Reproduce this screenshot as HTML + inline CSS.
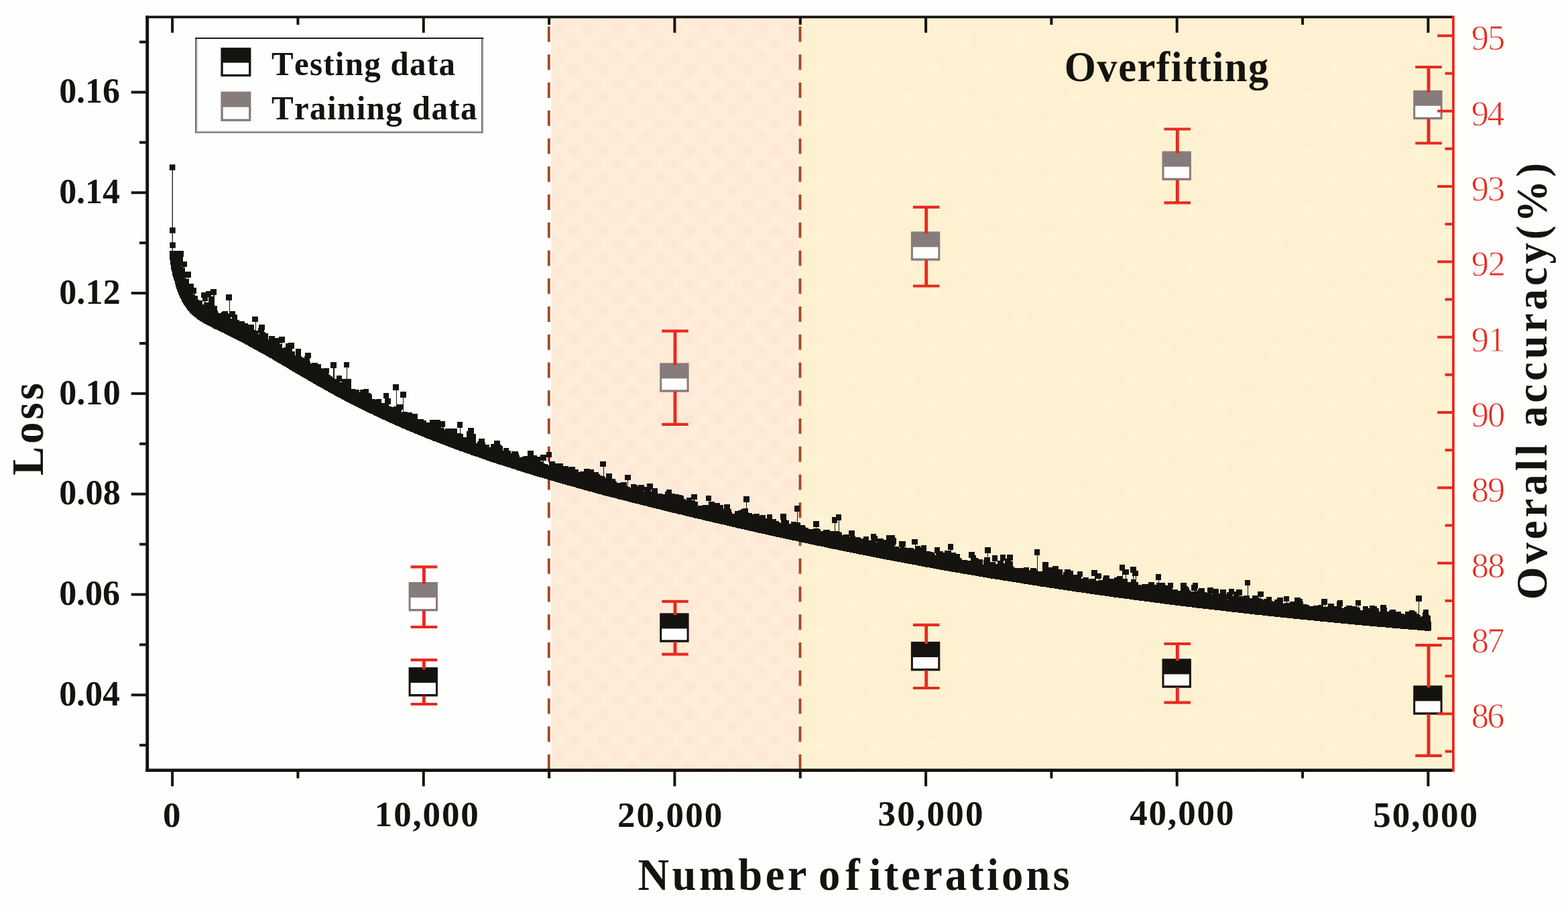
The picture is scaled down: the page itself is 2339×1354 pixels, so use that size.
<!DOCTYPE html>
<html lang="en">
<head>
<meta charset="utf-8">
<title>Loss and overall accuracy vs number of iterations</title>
<style>html,body{margin:0;padding:0;background:#fefefc;overflow:hidden;}svg{display:block;}</style>
</head>
<body>
<svg width="2339" height="1354" viewBox="0 0 2339 1354" role="img" aria-label="Loss and overall accuracy versus number of iterations">
<defs>
<radialGradient id="gp"><stop offset="0" stop-color="#fedcd4" stop-opacity="0.5"/><stop offset="1" stop-color="#fedcd4" stop-opacity="0"/></radialGradient>
<radialGradient id="go"><stop offset="0" stop-color="#fddfc8" stop-opacity="0.4"/><stop offset="1" stop-color="#fddfc8" stop-opacity="0"/></radialGradient>
<radialGradient id="gl"><stop offset="0" stop-color="#fff3dc" stop-opacity="0.5"/><stop offset="1" stop-color="#fff3dc" stop-opacity="0"/></radialGradient>
<radialGradient id="gy"><stop offset="0" stop-color="#fcf8d9" stop-opacity="0.85"/><stop offset="1" stop-color="#fff7d6" stop-opacity="0"/></radialGradient>
<pattern id="pp" x="835.1" y="45.1" width="42.95" height="39.95" patternUnits="userSpaceOnUse"><rect width="42.95" height="39.95" fill="#feebd8"/><circle cx="21.475" cy="19.975" r="11" fill="url(#gp)"/><circle cx="0" cy="0" r="11" fill="url(#go)"/><circle cx="0" cy="39.95" r="11" fill="url(#go)"/><circle cx="42.95" cy="0" r="11" fill="url(#go)"/><circle cx="42.95" cy="39.95" r="11" fill="url(#go)"/><circle cx="0" cy="19.975" r="9" fill="url(#gl)"/><circle cx="42.95" cy="19.975" r="9" fill="url(#gl)"/><circle cx="21.475" cy="0" r="9" fill="url(#gl)"/><circle cx="21.475" cy="39.95" r="9" fill="url(#gl)"/></pattern>
<pattern id="py" x="33.8" y="18.3" width="85" height="84" patternUnits="userSpaceOnUse"><rect width="85" height="84" fill="#fef1d1"/><circle cx="42.5" cy="42" r="14" fill="url(#gy)"/><circle cx="0" cy="0" r="14" fill="url(#gy)"/><circle cx="85" cy="0" r="14" fill="url(#gy)"/><circle cx="0" cy="84" r="14" fill="url(#gy)"/><circle cx="85" cy="84" r="14" fill="url(#gy)"/></pattern>
</defs>
<rect width="2339" height="1354" fill="#fefefc"/>
<rect x="822.4" y="25.4" width="370.1" height="1123.1999999999998" fill="url(#pp)"/>
<rect x="1192.5" y="25.4" width="975.4000000000001" height="1123.1999999999998" fill="url(#py)"/>
<line x1="818.8" y1="39.4" x2="818.8" y2="1148.6" stroke="#a24825" stroke-width="3.8" stroke-dasharray="23.2 18.55"/>
<line x1="1193.5" y1="39.4" x2="1193.5" y2="1148.6" stroke="#a24825" stroke-width="3.8" stroke-dasharray="23.2 18.55"/>
<path d="M253 374h1v14h-1zM254 374h1v21h-1zM255 374h1v28h-1zM256 374h1v31h-1zM257 374h1v37h-1zM258 374h1v40h-1zM259 374h1v43h-1zM260 374h1v46h-1zM261 374h1v50h-1zM262 374h1v54h-1zM263 374h1v57h-1zM264 374h1v60h-1zM265 374h1v62h-1zM266 374h1v65h-1zM267 374h1v67h-1zM268 374h1v70h-1zM269 374h1v71h-1zM270 397h1v50h-1zM270 374h1v22h-1zM271 374h1v76h-1zM272 374h1v77h-1zM273 374h1v9h-1zM273 390h1v63h-1zM274 400h1v55h-1zM274 390h1v8h-1zM275 390h1v66h-1zM276 405h1v9h-1zM276 415h1v42h-1zM277 405h1v54h-1zM276 390h3v8h-3zM278 416h1v44h-1zM278 405h2v9h-2zM279 416h1v46h-1zM280 405h1v58h-1zM281 416h1v48h-1zM282 423h1v42h-1zM283 423h1v44h-1zM281 405h4v9h-4zM284 423h2v45h-2zM286 423h2v47h-2zM288 439h1v32h-1zM288 423h1v15h-1zM289 429h1v43h-1zM290 439h1v34h-1zM291 441h1v32h-1zM290 429h3v9h-3zM292 441h1v33h-1zM293 441h1v34h-1zM294 441h1v35h-1zM295 447h2v30h-2zM297 448h1v30h-1zM298 448h2v31h-2zM300 448h2v32h-2zM300 436h2v8h-2zM302 454h1v27h-1zM302 436h2v13h-2zM303 454h1v28h-1zM304 436h1v46h-1zM305 436h1v13h-1zM305 451h1v32h-1zM306 436h1v47h-1zM307 451h2v33h-2zM307 434h3v15h-3zM309 451h2v34h-2zM310 434h1v9h-1zM311 434h2v52h-2zM313 434h1v53h-1zM314 431h1v56h-1zM315 442h2v46h-2zM315 431h3v9h-3zM317 442h1v47h-1zM318 431h2v59h-2zM320 431h3v9h-3zM320 456h3v35h-3zM323 456h1v36h-1zM324 463h1v29h-1zM325 466h1v27h-1zM326 467h1v26h-1zM327 467h2v27h-2zM329 467h1v28h-1zM330 465h1v30h-1zM331 465h1v31h-1zM332 464h2v32h-2zM334 464h1v33h-1zM335 464h2v34h-2zM337 464h2v35h-2zM339 464h1v36h-1zM340 467h1v33h-1zM337 439h5v9h-5zM341 468h1v33h-1zM342 439h1v62h-1zM343 464h1v38h-1zM344 475h1v27h-1zM343 439h3v9h-3zM344 464h2v9h-2zM345 475h1v28h-1zM346 464h1v39h-1zM347 464h2v40h-2zM349 464h2v41h-2zM351 469h2v37h-2zM353 469h1v38h-1zM354 477h1v30h-1zM355 477h2v31h-2zM357 479h2v30h-2zM359 479h2v31h-2zM361 479h2v32h-2zM363 479h2v33h-2zM365 482h1v31h-1zM366 482h3v32h-3zM369 482h1v33h-1zM370 484h2v32h-2zM372 484h1v33h-1zM373 484h3v34h-3zM376 484h1v35h-1zM377 484h2v36h-2zM376 472h5v8h-5zM379 492h2v29h-2zM381 472h1v50h-1zM382 493h1v29h-1zM382 472h3v8h-3zM383 493h2v30h-2zM385 498h1v26h-1zM385 489h1v8h-1zM386 498h1v27h-1zM386 484h1v13h-1zM387 484h1v41h-1zM388 484h2v42h-2zM390 484h2v43h-2zM392 484h2v44h-2zM394 484h1v8h-1zM394 495h2v34h-2zM396 497h1v33h-1zM397 497h2v34h-2zM399 497h1v35h-1zM400 506h1v26h-1zM401 501h1v32h-1zM402 501h3v33h-3zM405 501h1v34h-1zM406 501h2v35h-2zM408 501h1v36h-1zM409 501h1v37h-1zM410 504h1v34h-1zM411 504h2v35h-2zM413 504h1v36h-1zM414 504h2v37h-2zM416 502h1v40h-1zM417 513h1v29h-1zM417 502h2v10h-2zM418 513h2v30h-2zM419 502h1v9h-1zM420 502h1v42h-1zM421 519h2v26h-2zM421 502h4v9h-4zM423 518h2v28h-2zM425 518h1v29h-1zM426 512h1v35h-1zM427 512h1v36h-1zM428 512h2v37h-2zM430 511h1v39h-1zM431 511h2v40h-2zM433 511h2v41h-2zM435 511h1v42h-1zM436 524h2v30h-2zM436 511h3v9h-3zM438 524h2v31h-2zM440 530h1v26h-1zM441 520h2v37h-2zM443 520h2v38h-2zM445 520h2v39h-2zM447 520h1v40h-1zM448 520h1v41h-1zM449 531h1v30h-1zM450 533h2v29h-2zM452 533h1v30h-1zM453 534h1v30h-1zM454 531h1v33h-1zM455 526h1v38h-1zM456 526h1v39h-1zM457 526h2v40h-2zM459 526h1v41h-1zM460 526h2v42h-2zM462 539h1v30h-1zM462 526h2v8h-2zM463 542h1v27h-1zM464 542h1v28h-1zM465 541h1v29h-1zM466 541h1v30h-1zM467 541h2v31h-2zM469 541h2v32h-2zM471 541h1v33h-1zM472 541h2v34h-2zM474 543h2v33h-2zM476 543h2v34h-2zM478 543h1v35h-1zM479 549h1v29h-1zM480 549h1v30h-1zM481 550h1v29h-1zM482 549h1v31h-1zM483 549h2v32h-2zM485 549h2v33h-2zM487 549h2v34h-2zM489 549h1v35h-1zM490 549h1v8h-1zM490 558h1v27h-1zM491 559h1v26h-1zM492 559h1v27h-1zM493 561h1v25h-1zM494 561h2v26h-2zM493 540h4v9h-4zM496 563h1v25h-1zM497 540h1v48h-1zM498 540h1v49h-1zM499 565h2v25h-2zM499 540h3v9h-3zM501 565h1v26h-1zM502 560h1v31h-1zM503 560h2v32h-2zM505 560h2v33h-2zM507 570h2v24h-2zM507 560h3v9h-3zM509 570h1v25h-1zM510 565h3v31h-3zM513 565h1v32h-1zM514 565h2v33h-2zM513 540h4v8h-4zM516 565h1v34h-1zM517 540h1v59h-1zM518 565h2v35h-2zM518 540h3v8h-3zM520 565h2v36h-2zM522 565h2v37h-2zM524 580h2v23h-2zM526 580h2v24h-2zM528 580h2v25h-2zM530 581h2v25h-2zM532 581h2v26h-2zM534 581h2v27h-2zM536 585h1v24h-1zM537 581h1v28h-1zM538 581h2v29h-2zM540 581h2v30h-2zM542 580h2v32h-2zM544 580h2v33h-2zM546 580h2v34h-2zM548 580h2v35h-2zM550 586h2v30h-2zM552 586h1v31h-1zM553 588h2v29h-2zM555 595h2v23h-2zM557 595h1v24h-1zM558 595h2v25h-2zM560 596h1v24h-1zM561 595h2v26h-2zM563 595h2v27h-2zM565 595h2v28h-2zM567 595h2v29h-2zM569 601h2v24h-2zM571 601h3v25h-3zM572 586h2v8h-2zM574 586h2v41h-2zM576 586h2v42h-2zM578 586h2v43h-2zM580 605h1v25h-1zM581 606h1v24h-1zM580 594h3v9h-3zM582 606h2v25h-2zM584 607h1v24h-1zM585 607h2v25h-2zM587 606h2v27h-2zM586 573h5v9h-5zM589 606h2v28h-2zM591 573h1v62h-1zM592 603h2v32h-2zM592 573h3v9h-3zM594 603h2v33h-2zM596 603h2v34h-2zM598 603h1v35h-1zM599 615h1v23h-1zM597 584h4v9h-4zM599 603h2v8h-2zM600 614h1v25h-1zM601 584h1v55h-1zM602 614h1v25h-1zM603 614h2v26h-2zM602 584h4v9h-4zM605 614h2v27h-2zM607 614h1v28h-1zM608 615h2v27h-2zM610 615h2v28h-2zM612 615h3v29h-3zM615 617h2v28h-2zM617 617h2v29h-2zM619 617h3v30h-3zM622 617h1v31h-1zM623 625h1v23h-1zM624 625h3v24h-3zM627 625h2v25h-2zM629 625h3v26h-3zM632 627h2v25h-2zM634 627h2v26h-2zM636 630h3v24h-3zM639 630h2v25h-2zM641 626h1v29h-1zM642 626h2v30h-2zM644 626h2v31h-2zM646 626h4v32h-4zM650 626h2v33h-2zM652 626h3v34h-3zM655 626h2v35h-2zM657 628h1v34h-1zM658 628h2v9h-2zM658 638h2v24h-2zM660 628h1v35h-1zM661 638h1v25h-1zM662 639h1v24h-1zM661 628h3v9h-3zM663 641h1v23h-1zM664 639h1v25h-1zM665 639h3v26h-3zM668 639h2v27h-2zM670 639h3v28h-3zM673 639h3v29h-3zM676 639h2v30h-2zM678 639h3v31h-3zM681 639h1v32h-1zM682 646h2v25h-2zM682 629h4v9h-4zM684 646h2v26h-2zM686 629h1v44h-1zM687 646h1v27h-1zM687 629h3v9h-3zM688 647h2v26h-2zM690 647h1v27h-1zM691 652h1v22h-1zM692 652h3v23h-3zM695 652h1v24h-1zM696 643h2v33h-2zM698 638h3v39h-3zM701 638h2v40h-2zM703 638h3v41h-3zM706 638h1v42h-1zM707 647h2v33h-2zM709 647h1v34h-1zM710 661h2v20h-2zM712 658h1v23h-1zM713 658h1v24h-1zM714 654h1v28h-1zM715 654h3v29h-3zM718 654h3v30h-3zM721 654h2v31h-2zM723 660h1v25h-1zM724 663h2v23h-2zM726 663h3v24h-3zM729 663h1v25h-1zM730 667h2v21h-2zM732 662h3v27h-3zM735 662h2v28h-2zM737 657h2v33h-2zM739 657h2v34h-2zM741 657h3v35h-3zM744 657h2v36h-2zM746 663h2v30h-2zM748 665h2v29h-2zM750 672h1v22h-1zM751 668h3v27h-3zM754 668h3v28h-3zM757 668h2v29h-2zM759 672h2v25h-2zM761 672h1v26h-1zM762 676h1v22h-1zM763 673h4v26h-4zM767 673h3v27h-3zM770 673h2v28h-2zM772 673h1v29h-1zM773 676h1v26h-1zM774 679h1v23h-1zM775 682h1v20h-1zM776 682h2v21h-2zM778 681h1v22h-1zM779 681h2v23h-2zM781 680h1v24h-1zM782 680h3v25h-3zM785 680h2v26h-2zM787 672h2v34h-2zM789 672h3v35h-3zM792 672h3v36h-3zM795 672h1v37h-1zM796 679h2v30h-2zM798 679h3v31h-3zM801 681h4v30h-4zM805 681h1v31h-1zM806 688h3v24h-3zM806 678h4v9h-4zM809 688h1v25h-1zM810 678h1v35h-1zM811 691h1v22h-1zM812 691h1v23h-1zM811 678h4v9h-4zM813 692h3v22h-3zM816 692h1v23h-1zM817 693h1v22h-1zM815 674h4v8h-4zM818 694h1v22h-1zM819 674h1v42h-1zM820 688h2v28h-2zM820 674h3v8h-3zM822 688h4v29h-4zM826 688h2v30h-2zM828 691h1v27h-1zM829 691h3v28h-3zM832 691h4v29h-4zM836 691h3v30h-3zM839 691h1v31h-1zM840 695h3v27h-3zM843 695h3v28h-3zM846 695h2v29h-2zM848 697h1v27h-1zM849 696h1v28h-1zM850 696h4v29h-4zM854 696h4v30h-4zM858 700h2v27h-2zM860 700h3v28h-3zM863 704h1v24h-1zM864 704h1v25h-1zM865 703h3v26h-3zM868 703h3v27h-3zM871 699h4v32h-4zM875 699h3v33h-3zM878 699h2v34h-2zM880 700h3v33h-3zM883 700h3v34h-3zM886 704h3v31h-3zM889 704h4v32h-4zM893 707h2v30h-2zM895 709h2v28h-2zM897 709h1v29h-1zM895 688h5v8h-5zM898 710h2v28h-2zM900 688h1v51h-1zM901 710h1v29h-1zM902 711h1v28h-1zM901 688h3v8h-3zM903 713h1v26h-1zM904 706h4v34h-4zM908 706h4v35h-4zM912 706h1v36h-1zM913 714h4v28h-4zM917 714h1v29h-1zM918 717h1v26h-1zM919 718h1v25h-1zM920 720h3v24h-3zM923 720h3v25h-3zM926 719h2v26h-2zM928 719h4v27h-4zM932 719h3v28h-3zM932 708h4v8h-4zM935 725h1v22h-1zM936 708h1v40h-1zM937 726h2v22h-2zM939 726h1v23h-1zM937 708h4v8h-4zM940 728h1v21h-1zM941 722h2v27h-2zM943 722h4v28h-4zM947 722h2v29h-2zM949 723h2v28h-2zM951 725h1v26h-1zM952 723h3v29h-3zM955 723h4v30h-4zM959 723h1v31h-1zM960 723h1v9h-1zM960 733h1v21h-1zM961 726h3v28h-3zM964 726h1v29h-1zM965 721h2v34h-2zM967 721h4v35h-4zM971 721h1v9h-1zM971 733h1v24h-1zM972 721h2v36h-2zM974 728h1v29h-1zM975 728h4v30h-4zM979 728h2v31h-2zM981 736h3v23h-3zM984 736h3v24h-3zM987 736h1v25h-1zM988 737h3v24h-3zM991 737h1v25h-1zM992 733h2v29h-2zM994 730h1v32h-1zM995 730h4v33h-4zM999 730h3v34h-3zM1002 736h1v28h-1zM1003 736h4v29h-4zM1007 737h1v28h-1zM1008 737h3v29h-3zM1011 737h2v30h-2zM1013 738h4v29h-4zM1017 739h3v29h-3zM1020 744h3v25h-3zM1023 746h1v23h-1zM1024 742h4v28h-4zM1028 742h3v29h-3zM1031 737h1v34h-1zM1032 746h1v25h-1zM1032 737h3v8h-3zM1033 746h2v26h-2zM1035 737h1v35h-1zM1036 746h1v27h-1zM1036 737h4v8h-4zM1037 748h4v25h-4zM1041 754h5v20h-5zM1046 754h2v21h-2zM1048 753h1v22h-1zM1049 753h4v23h-4zM1053 753h4v24h-4zM1053 739h4v8h-4zM1057 739h1v38h-1zM1058 739h3v8h-3zM1058 748h4v30h-4zM1062 748h4v31h-4zM1066 750h5v30h-5zM1071 750h3v31h-3zM1074 753h1v28h-1zM1075 753h4v29h-4zM1079 759h1v23h-1zM1080 752h4v31h-4zM1084 752h4v32h-4zM1088 752h1v33h-1zM1089 759h2v26h-2zM1091 763h1v22h-1zM1092 766h4v20h-4zM1096 762h1v24h-1zM1097 762h3v25h-3zM1100 762h1v26h-1zM1101 761h4v27h-4zM1105 759h3v30h-3zM1108 758h2v31h-2zM1109 740h4v9h-4zM1110 758h3v32h-3zM1113 740h1v50h-1zM1114 758h2v33h-2zM1116 764h1v27h-1zM1114 740h4v9h-4zM1117 765h1v26h-1zM1118 765h4v27h-4zM1122 767h1v25h-1zM1123 767h1v26h-1zM1124 766h3v27h-3zM1127 766h4v28h-4zM1131 766h2v29h-2zM1133 769h1v26h-1zM1134 768h2v27h-2zM1136 768h5v28h-5zM1141 768h1v29h-1zM1142 773h2v24h-2zM1144 767h1v30h-1zM1145 767h4v31h-4zM1149 767h3v32h-3zM1152 774h2v25h-2zM1154 774h4v26h-4zM1158 777h4v24h-4zM1162 779h1v22h-1zM1163 779h1v23h-1zM1164 780h1v22h-1zM1164 766h1v9h-1zM1165 766h3v36h-3zM1168 766h4v37h-4zM1172 766h1v38h-1zM1173 775h1v29h-1zM1174 776h3v28h-3zM1177 781h3v24h-3zM1180 778h1v27h-1zM1181 778h6v28h-6zM1187 778h1v29h-1zM1185 754h4v9h-4zM1188 779h1v28h-1zM1189 754h1v53h-1zM1190 779h1v28h-1zM1190 754h3v9h-3zM1191 779h3v29h-3zM1194 783h1v25h-1zM1195 783h5v26h-5zM1200 783h1v27h-1zM1201 785h1v25h-1zM1202 787h3v23h-3zM1205 787h1v24h-1zM1206 789h3v22h-3zM1209 789h4v23h-4zM1213 788h1v24h-1zM1213 777h4v9h-4zM1214 788h3v25h-3zM1217 777h1v36h-1zM1218 788h4v26h-4zM1218 777h4v9h-4zM1222 789h2v25h-2zM1224 792h4v23h-4zM1228 790h1v25h-1zM1229 790h4v26h-4zM1233 790h4v27h-4zM1237 790h1v28h-1zM1238 792h4v26h-4zM1241 771h4v9h-4zM1242 792h3v27h-3zM1245 771h1v48h-1zM1246 771h1v9h-1zM1246 792h2v27h-2zM1247 767h2v13h-2zM1248 792h3v28h-3zM1249 767h2v9h-2zM1251 767h1v53h-1zM1252 793h2v28h-2zM1252 767h3v9h-3zM1254 794h2v27h-2zM1256 798h1v23h-1zM1257 798h1v24h-1zM1258 797h4v25h-4zM1262 797h4v26h-4zM1266 791h1v32h-1zM1267 800h1v24h-1zM1267 791h1v8h-1zM1268 791h4v33h-4zM1272 791h3v34h-3zM1275 799h1v26h-1zM1276 801h1v24h-1zM1277 801h4v25h-4zM1281 801h2v26h-2zM1283 802h2v25h-2zM1285 804h1v23h-1zM1286 803h1v24h-1zM1287 803h1v25h-1zM1288 800h4v28h-4zM1292 800h4v29h-4zM1296 806h1v23h-1zM1297 806h1v24h-1zM1298 805h2v25h-2zM1299 796h1v8h-1zM1300 796h2v34h-2zM1302 796h5v35h-5zM1307 799h1v9h-1zM1307 809h1v23h-1zM1308 799h1v33h-1zM1309 803h3v29h-3zM1312 803h5v30h-5zM1317 803h1v31h-1zM1318 805h4v29h-4zM1322 798h6v37h-6zM1328 798h5v38h-5zM1333 798h1v39h-1zM1334 798h1v16h-1zM1335 802h1v12h-1zM1336 802h1v9h-1zM1334 815h4v22h-4zM1338 815h3v23h-3zM1341 807h2v9h-2zM1341 817h2v21h-2zM1343 807h1v31h-1zM1344 807h5v32h-5zM1349 807h2v8h-2zM1349 816h3v24h-3zM1352 817h2v23h-2zM1354 817h6v24h-6zM1360 817h3v25h-3zM1360 804h5v8h-5zM1363 819h2v23h-2zM1365 804h1v38h-1zM1366 804h3v8h-3zM1366 814h4v29h-4zM1370 814h3v30h-3zM1373 816h1v28h-1zM1374 813h1v31h-1zM1375 813h5v32h-5zM1380 813h2v33h-2zM1382 822h5v24h-5zM1387 822h1v25h-1zM1388 823h4v24h-4zM1392 824h2v24h-2zM1394 826h1v22h-1zM1394 816h2v9h-2zM1395 828h1v20h-1zM1396 816h1v32h-1zM1397 816h5v33h-5zM1402 822h5v28h-5zM1407 824h1v26h-1zM1408 824h1v27h-1zM1409 821h5v30h-5zM1414 811h4v9h-4zM1414 821h4v31h-4zM1418 811h1v41h-1zM1419 811h3v9h-3zM1419 824h6v29h-6zM1425 824h1v30h-1zM1426 826h6v28h-6zM1432 832h2v23h-2zM1434 833h1v22h-1zM1435 835h1v20h-1zM1436 835h7v21h-7zM1443 836h5v21h-5zM1445 823h3v9h-3zM1448 823h1v34h-1zM1449 823h5v35h-5zM1454 828h1v30h-1zM1455 828h1v31h-1zM1456 832h3v27h-3zM1459 833h1v26h-1zM1460 834h6v26h-6zM1466 842h1v19h-1zM1467 835h1v26h-1zM1468 831h4v30h-4zM1469 816h4v9h-4zM1472 831h1v31h-1zM1473 816h1v46h-1zM1474 831h3v31h-3zM1474 816h4v9h-4zM1477 838h7v25h-7zM1480 828h4v9h-4zM1484 828h1v36h-1zM1485 841h3v23h-3zM1485 828h3v9h-3zM1488 836h3v28h-3zM1491 836h1v29h-1zM1492 827h4v38h-4zM1496 827h1v39h-1zM1497 827h2v9h-2zM1497 840h2v26h-2zM1499 827h1v39h-1zM1500 833h2v33h-2zM1502 827h1v39h-1zM1503 827h5v40h-5zM1508 837h1v30h-1zM1508 827h3v9h-3zM1509 837h2v31h-2zM1511 844h1v24h-1zM1512 846h2v22h-2zM1514 847h2v21h-2zM1516 847h6v22h-6zM1522 847h5v23h-5zM1527 846h7v25h-7zM1534 846h1v26h-1zM1535 850h2v22h-2zM1537 847h3v25h-3zM1540 847h6v26h-6zM1543 819h4v9h-4zM1546 849h1v24h-1zM1547 819h1v55h-1zM1548 819h3v9h-3zM1548 852h4v22h-4zM1552 852h3v23h-3zM1555 838h5v37h-5zM1560 838h4v38h-4zM1564 846h1v30h-1zM1565 846h5v31h-5zM1570 844h3v33h-3zM1573 844h6v34h-6zM1579 849h6v30h-6zM1585 857h1v22h-1zM1586 853h2v27h-2zM1588 849h4v31h-4zM1592 849h5v32h-5zM1597 851h2v30h-2zM1599 851h2v31h-2zM1601 857h4v25h-4zM1605 857h2v26h-2zM1607 852h6v31h-6zM1613 852h2v8h-2zM1613 863h2v21h-2zM1615 861h5v23h-5zM1620 861h4v24h-4zM1624 864h1v21h-1zM1625 863h1v22h-1zM1626 863h7v23h-7zM1628 850h5v9h-5zM1633 850h2v37h-2zM1635 850h2v13h-2zM1635 866h4v21h-4zM1637 855h2v8h-2zM1639 855h1v32h-1zM1640 855h3v8h-3zM1640 865h5v23h-5zM1645 861h1v27h-1zM1646 858h2v30h-2zM1648 858h7v31h-7zM1655 863h6v27h-6zM1661 863h1v28h-1zM1662 861h4v30h-4zM1666 859h3v32h-3zM1669 859h5v33h-5zM1670 842h4v9h-4zM1674 842h1v50h-1zM1675 863h2v29h-2zM1675 842h3v15h-3zM1677 863h2v30h-2zM1678 849h1v8h-1zM1679 849h1v44h-1zM1680 863h2v30h-2zM1680 849h4v8h-4zM1682 868h3v25h-3zM1685 868h2v26h-2zM1686 845h3v9h-3zM1687 864h3v30h-3zM1689 845h1v14h-1zM1690 845h1v49h-1zM1691 864h3v31h-3zM1691 845h3v14h-3zM1694 845h1v50h-1zM1695 851h3v8h-3zM1695 868h3v27h-3zM1698 872h1v23h-1zM1699 872h3v24h-3zM1702 873h1v23h-1zM1703 871h4v25h-4zM1707 871h6v26h-6zM1713 868h2v29h-2zM1715 868h7v30h-7zM1722 872h3v27h-3zM1724 856h4v9h-4zM1725 869h3v30h-3zM1728 856h1v43h-1zM1729 869h1v30h-1zM1729 856h3v9h-3zM1730 869h7v31h-7zM1737 869h1v32h-1zM1738 872h1v29h-1zM1739 873h3v28h-3zM1742 869h3v32h-3zM1745 869h4v33h-4zM1749 869h1v8h-1zM1749 879h4v23h-4zM1753 879h4v24h-4zM1757 881h4v22h-4zM1761 869h8v35h-8zM1769 869h1v36h-1zM1770 874h2v31h-2zM1772 876h2v29h-2zM1774 880h2v25h-2zM1776 882h2v23h-2zM1777 872h2v9h-2zM1778 882h4v24h-4zM1779 869h3v12h-3zM1782 869h2v37h-2zM1784 869h1v12h-1zM1784 882h1v24h-1zM1785 869h1v38h-1zM1786 869h1v9h-1zM1786 881h1v26h-1zM1787 879h1v28h-1zM1788 877h6v30h-6zM1794 877h3v31h-3zM1797 883h3v25h-3zM1800 884h1v24h-1zM1801 876h2v32h-2zM1803 876h5v33h-5zM1808 886h1v23h-1zM1808 876h1v9h-1zM1809 876h1v33h-1zM1810 878h2v31h-2zM1812 878h6v32h-6zM1818 885h2v25h-2zM1820 879h1v31h-1zM1821 879h8v32h-8zM1829 886h1v26h-1zM1830 883h1v29h-1zM1831 895h1v17h-1zM1831 883h1v11h-1zM1832 883h1v29h-1zM1833 878h4v34h-4zM1837 878h2v35h-2zM1839 889h1v24h-1zM1839 878h1v8h-1zM1840 878h1v35h-1zM1841 882h3v31h-3zM1844 879h3v34h-3zM1847 879h1v35h-1zM1848 879h1v9h-1zM1848 889h1v25h-1zM1849 879h1v35h-1zM1850 879h3v9h-3zM1850 889h5v25h-5zM1855 888h6v27h-6zM1857 865h4v8h-4zM1861 865h1v50h-1zM1862 888h2v27h-2zM1862 865h3v8h-3zM1864 892h4v24h-4zM1868 888h4v28h-4zM1872 888h4v29h-4zM1876 882h1v35h-1zM1877 891h2v26h-2zM1877 882h3v8h-3zM1879 893h1v24h-1zM1880 882h1v35h-1zM1881 893h2v24h-2zM1883 893h1v25h-1zM1881 882h4v8h-4zM1884 895h1v23h-1zM1885 893h4v25h-4zM1889 890h2v28h-2zM1891 890h6v29h-6zM1897 896h2v23h-2zM1899 897h2v22h-2zM1901 894h4v26h-4zM1905 891h5v29h-5zM1910 891h4v30h-4zM1914 900h2v21h-2zM1915 889h4v8h-4zM1916 899h3v22h-3zM1919 889h1v32h-1zM1920 889h3v8h-3zM1920 899h4v23h-4zM1924 897h5v25h-5zM1929 897h2v26h-2zM1931 891h8v32h-8zM1939 891h1v33h-1zM1940 893h3v31h-3zM1943 897h1v27h-1zM1944 901h6v23h-6zM1950 902h3v23h-3zM1953 904h6v21h-6zM1959 903h1v22h-1zM1960 903h6v23h-6zM1966 902h3v24h-3zM1969 902h2v25h-2zM1971 893h3v34h-3zM1974 893h2v9h-2zM1974 905h2v22h-2zM1976 893h1v34h-1zM1977 893h3v9h-3zM1977 905h3v22h-3zM1980 904h1v24h-1zM1981 900h9v28h-9zM1990 904h4v25h-4zM1994 897h1v32h-1zM1995 895h5v34h-5zM2000 895h1v35h-1zM2001 895h1v10h-1zM2001 906h2v24h-2zM2002 895h1v9h-1zM2003 907h2v23h-2zM2005 905h3v25h-3zM2008 903h3v27h-3zM2011 903h6v28h-6zM2017 904h4v27h-4zM2021 904h4v28h-4zM2022 895h4v8h-4zM2025 906h1v26h-1zM2026 895h1v37h-1zM2027 906h2v26h-2zM2027 895h3v8h-3zM2029 910h3v22h-3zM2032 910h1v23h-1zM2033 904h8v29h-8zM2041 907h2v26h-2zM2043 903h8v31h-8zM2051 904h3v30h-3zM2054 907h3v28h-3zM2057 912h2v23h-2zM2059 902h8v33h-8zM2067 902h1v34h-1zM2068 906h1v30h-1zM2069 912h3v24h-3zM2072 910h2v26h-2zM2074 909h3v27h-3zM2077 909h5v28h-5zM2082 912h7v25h-7zM2089 912h1v26h-1zM2090 915h4v23h-4zM2094 916h2v22h-2zM2096 912h5v26h-5zM2101 912h1v27h-1zM2102 910h8v29h-8zM2110 912h3v27h-3zM2113 915h1v24h-1zM2112 888h4v9h-4zM2114 915h2v25h-2zM2116 888h1v52h-1zM2117 917h2v23h-2zM2119 920h1v20h-1zM2117 888h4v9h-4zM2120 919h2v21h-2zM2122 913h1v27h-1zM2123 909h2v31h-2zM2125 909h6v32h-6zM2131 917h1v24h-1zM2132 918h2v23h-2zM2134 927h1v13h-1z" fill="#15130f" shape-rendering="crispEdges"/>
<path d="M257.3 250V378" stroke="#15130f" stroke-width="1.3" fill="none"/>
<rect x="252.8" y="245.3" width="8.6" height="8.6" fill="#15130f"/>
<rect x="253.1" y="339.2" width="8.6" height="8.6" fill="#15130f"/>
<rect x="253.3" y="361.3" width="8.6" height="8.6" fill="#15130f"/>
<g stroke="#15130f" fill="none" stroke-linecap="butt">
<path d="M219.7 1151.0 V23.5" stroke-width="4.9"/>
<path d="M217.29999999999998 25.4 H2167.9" stroke-width="3.8"/>
<path d="M217.29999999999998 1148.6 H2167.9" stroke-width="4.8"/>
<g stroke-width="4">
<path d="M208.0 1111.2 H219.7"/>
<path d="M195.7 1036.3 H219.7"/>
<path d="M208.0 961.4 H219.7"/>
<path d="M195.7 886.5 H219.7"/>
<path d="M208.0 811.6 H219.7"/>
<path d="M195.7 736.7 H219.7"/>
<path d="M208.0 661.8 H219.7"/>
<path d="M195.7 586.9 H219.7"/>
<path d="M208.0 512.0 H219.7"/>
<path d="M195.7 437.1 H219.7"/>
<path d="M208.0 362.2 H219.7"/>
<path d="M195.7 287.3 H219.7"/>
<path d="M208.0 212.4 H219.7"/>
<path d="M195.7 137.5 H219.7"/>
<path d="M208.0 62.6 H219.7"/>
<path d="M257.1 25.4 V48.8"/>
<path d="M257.1 1148.6 V1172.5"/>
<path d="M444.4 25.4 V36.9"/>
<path d="M444.4 1148.6 V1160.6"/>
<path d="M631.8 25.4 V48.8"/>
<path d="M631.8 1148.6 V1172.5"/>
<path d="M819.1 25.4 V36.9"/>
<path d="M819.1 1148.6 V1160.6"/>
<path d="M1006.4 25.4 V48.8"/>
<path d="M1006.4 1148.6 V1172.5"/>
<path d="M1193.8 25.4 V36.9"/>
<path d="M1193.8 1148.6 V1160.6"/>
<path d="M1381.1 25.4 V48.8"/>
<path d="M1381.1 1148.6 V1172.5"/>
<path d="M1568.4 25.4 V36.9"/>
<path d="M1568.4 1148.6 V1160.6"/>
<path d="M1755.7 25.4 V48.8"/>
<path d="M1755.7 1148.6 V1172.5"/>
<path d="M1943.1 25.4 V36.9"/>
<path d="M1943.1 1148.6 V1160.6"/>
<path d="M2130.4 25.4 V48.8"/>
<path d="M2130.4 1148.6 V1172.5"/>
</g></g>
<rect x="609.6" y="868.0" width="43.4" height="43.4" fill="#857c7b"/>
<rect x="612.6" y="891.1" width="37.4" height="16.9" fill="#fffefe"/>
<g stroke="#e72a20" fill="none">
<path d="M632.4 845.3 V871.0 M632.4 910.4 V935.0" stroke-width="4.9"/>
<path d="M612.6 845.3 H652.2 M612.6 935.0 H652.2" stroke-width="4.2"/>
</g>
<rect x="984.2" y="541.3" width="43.4" height="43.4" fill="#857c7b"/>
<rect x="987.2" y="564.4" width="37.4" height="16.9" fill="#fffefe"/>
<g stroke="#e72a20" fill="none">
<path d="M1007.0 493.7 V544.3 M1007.0 583.7 V632.9" stroke-width="4.9"/>
<path d="M987.2 493.7 H1026.8 M987.2 632.9 H1026.8" stroke-width="4.2"/>
</g>
<rect x="1358.9" y="345.3" width="43.4" height="43.4" fill="#857c7b"/>
<rect x="1361.9" y="368.4" width="37.4" height="16.9" fill="#fffefe"/>
<g stroke="#e72a20" fill="none">
<path d="M1381.7 308.8 V348.3 M1381.7 387.7 V426.5" stroke-width="4.9"/>
<path d="M1361.9 308.8 H1401.5 M1361.9 426.5 H1401.5" stroke-width="4.2"/>
</g>
<rect x="1733.5" y="225.5" width="43.4" height="43.4" fill="#857c7b"/>
<rect x="1736.5" y="248.6" width="37.4" height="16.9" fill="#fffefe"/>
<g stroke="#e72a20" fill="none">
<path d="M1756.3 192.5 V228.5 M1756.3 267.9 V302.4" stroke-width="4.9"/>
<path d="M1736.5 192.5 H1776.1 M1736.5 302.4 H1776.1" stroke-width="4.2"/>
</g>
<rect x="2108.2" y="134.7" width="43.4" height="43.4" fill="#857c7b"/>
<rect x="2111.2" y="157.8" width="37.4" height="16.9" fill="#fffefe"/>
<g stroke="#e72a20" fill="none">
<path d="M2131.0 100.0 V137.7 M2131.0 177.1 V213.5" stroke-width="4.9"/>
<path d="M2111.2 100.0 H2150.8 M2111.2 213.5 H2150.8" stroke-width="4.2"/>
</g>
<rect x="609.6" y="995.1" width="43.4" height="43.4" fill="#15130f"/>
<rect x="612.6" y="1018.2" width="37.4" height="16.9" fill="#fffefe"/>
<g stroke="#e72a20" fill="none">
<path d="M632.4 984.1 V998.1 M632.4 1037.5 V1050.0" stroke-width="4.9"/>
<path d="M612.6 984.1 H652.2 M612.6 1050.0 H652.2" stroke-width="4.2"/>
</g>
<rect x="984.2" y="914.3" width="43.4" height="43.4" fill="#15130f"/>
<rect x="987.2" y="937.4" width="37.4" height="16.9" fill="#fffefe"/>
<g stroke="#e72a20" fill="none">
<path d="M1007.0 896.9 V917.3 M1007.0 956.7 V975.7" stroke-width="4.9"/>
<path d="M987.2 896.9 H1026.8 M987.2 975.7 H1026.8" stroke-width="4.2"/>
</g>
<rect x="1358.9" y="956.9" width="43.4" height="43.4" fill="#15130f"/>
<rect x="1361.9" y="980.0" width="37.4" height="16.9" fill="#fffefe"/>
<g stroke="#e72a20" fill="none">
<path d="M1381.7 931.8 V959.9 M1381.7 999.3 V1026.0" stroke-width="4.9"/>
<path d="M1361.9 931.8 H1401.5 M1361.9 1026.0 H1401.5" stroke-width="4.2"/>
</g>
<rect x="1733.5" y="982.3" width="43.4" height="43.4" fill="#15130f"/>
<rect x="1736.5" y="1005.4" width="37.4" height="16.9" fill="#fffefe"/>
<g stroke="#e72a20" fill="none">
<path d="M1756.3 960.0 V985.3 M1756.3 1024.7 V1047.6" stroke-width="4.9"/>
<path d="M1736.5 960.0 H1776.1 M1736.5 1047.6 H1776.1" stroke-width="4.2"/>
</g>
<rect x="2108.2" y="1022.3" width="43.4" height="43.4" fill="#15130f"/>
<rect x="2111.2" y="1045.4" width="37.4" height="16.9" fill="#fffefe"/>
<g stroke="#e72a20" fill="none">
<path d="M2131.0 962.2 V1025.3 M2131.0 1064.7 V1126.9" stroke-width="4.9"/>
<path d="M2111.2 962.2 H2150.8 M2111.2 1126.9 H2150.8" stroke-width="4.2"/>
</g>
<g stroke="#e72a20" fill="none">
<path d="M2167.9 23.5 V1151.0" stroke-width="3.8"/>
<g stroke-width="4">
<path d="M2155.5 1120.5 H2167.9"/>
<path d="M2144.1 1064.4 H2167.9"/>
<path d="M2155.5 1008.2 H2167.9"/>
<path d="M2144.1 952.0 H2167.9"/>
<path d="M2155.5 895.9 H2167.9"/>
<path d="M2144.1 839.7 H2167.9"/>
<path d="M2155.5 783.5 H2167.9"/>
<path d="M2144.1 727.3 H2167.9"/>
<path d="M2155.5 671.2 H2167.9"/>
<path d="M2144.1 615.0 H2167.9"/>
<path d="M2155.5 558.8 H2167.9"/>
<path d="M2144.1 502.7 H2167.9"/>
<path d="M2155.5 446.5 H2167.9"/>
<path d="M2144.1 390.3 H2167.9"/>
<path d="M2155.5 334.2 H2167.9"/>
<path d="M2144.1 278.0 H2167.9"/>
<path d="M2155.5 221.8 H2167.9"/>
<path d="M2144.1 165.6 H2167.9"/>
<path d="M2155.5 109.5 H2167.9"/>
<path d="M2144.1 53.3 H2167.9"/>
</g></g>
<rect x="293" y="57.5" width="426" height="139" fill="#fefefd"/>
<path d="M292.2 56.1V198.2" stroke="#585756" stroke-width="2" fill="none"/>
<path d="M294.2 58V195.4" stroke="#cfcfce" stroke-width="1.9" fill="none"/>
<path d="M295 196H718" stroke="#cdcdcc" stroke-width="1.4" fill="none"/>
<path d="M291.2 197.5H721.2" stroke="#727170" stroke-width="1.8" fill="none"/>
<path d="M719 58V198.3" stroke="#777675" stroke-width="2" fill="none"/>
<path d="M720.6 57V198.3" stroke="#b4b4b3" stroke-width="1.3" fill="none"/>
<path d="M291.2 57.05H721.2" stroke="#1c1a18" stroke-width="1.9" fill="none"/>
<rect x="329.4" y="71.1" width="45.0" height="43.0" fill="#15130f"/>
<rect x="332.7" y="93.6" width="38.4" height="17.2" fill="#fffefe"/>
<rect x="329.4" y="136.6" width="45.0" height="44.2" fill="#857c7b"/>
<rect x="332.7" y="159.7" width="38.4" height="17.8" fill="#fffefe"/>
<text transform="translate(0 1051.9)" font-family="'Liberation Serif', serif" font-size="52" font-weight="bold" fill="#15130f" style="font-kerning:none"><tspan x="88.17" letter-spacing="-0.09">0.04</tspan></text>
<text transform="translate(0 902.1)" font-family="'Liberation Serif', serif" font-size="52" font-weight="bold" fill="#15130f" style="font-kerning:none"><tspan x="88.17" letter-spacing="-0.09">0.06</tspan></text>
<text transform="translate(0 752.3)" font-family="'Liberation Serif', serif" font-size="52" font-weight="bold" fill="#15130f" style="font-kerning:none"><tspan x="88.17" letter-spacing="0.18">0.08</tspan></text>
<text transform="translate(0 602.5)" font-family="'Liberation Serif', serif" font-size="52" font-weight="bold" fill="#15130f" style="font-kerning:none"><tspan x="88.17" letter-spacing="0.18">0.10</tspan></text>
<text transform="translate(0 452.7)" font-family="'Liberation Serif', serif" font-size="52" font-weight="bold" fill="#15130f" style="font-kerning:none"><tspan x="88.17" letter-spacing="0.18">0.12</tspan></text>
<text transform="translate(0 302.9)" font-family="'Liberation Serif', serif" font-size="52" font-weight="bold" fill="#15130f" style="font-kerning:none"><tspan x="88.17" letter-spacing="-0.09">0.14</tspan></text>
<text transform="translate(0 153.1)" font-family="'Liberation Serif', serif" font-size="52" font-weight="bold" fill="#15130f" style="font-kerning:none"><tspan x="88.17" letter-spacing="-0.09">0.16</tspan></text>
<text transform="translate(0 1232.6)" font-family="'Liberation Serif', serif" font-size="53" font-weight="bold" fill="#15130f" style="font-kerning:none"><tspan x="242.90" letter-spacing="0.00">0</tspan></text>
<text transform="translate(0 1232.4)" font-family="'Liberation Serif', serif" font-size="53" font-weight="bold" fill="#15130f" style="font-kerning:none"><tspan x="558.86" letter-spacing="1.83">10,000</tspan></text>
<text transform="translate(0 1232.5)" font-family="'Liberation Serif', serif" font-size="53" font-weight="bold" fill="#15130f" style="font-kerning:none"><tspan x="920.94" letter-spacing="2.11">20,000</tspan></text>
<text transform="translate(0 1231.0)" font-family="'Liberation Serif', serif" font-size="53" font-weight="bold" fill="#15130f" style="font-kerning:none"><tspan x="1309.54" letter-spacing="2.23">30,000</tspan></text>
<text transform="translate(0 1229.6)" font-family="'Liberation Serif', serif" font-size="53" font-weight="bold" fill="#15130f" style="font-kerning:none"><tspan x="1685.20" letter-spacing="1.90">40,000</tspan></text>
<text transform="translate(0 1232.8)" font-family="'Liberation Serif', serif" font-size="53" font-weight="bold" fill="#15130f" style="font-kerning:none"><tspan x="2048.14" letter-spacing="2.05">50,000</tspan></text>
<text transform="translate(0 1085.4)" font-family="'Liberation Serif', serif" font-size="52.5" font-weight="normal" fill="#e72a20" stroke="#fefefc" stroke-width="0.9" style="font-kerning:none"><tspan x="2194.86" letter-spacing="-2.94">86</tspan></text>
<text transform="translate(0 973.0)" font-family="'Liberation Serif', serif" font-size="52.5" font-weight="normal" fill="#e72a20" stroke="#fefefc" stroke-width="0.9" style="font-kerning:none"><tspan x="2194.86" letter-spacing="-2.94">87</tspan></text>
<text transform="translate(0 860.7)" font-family="'Liberation Serif', serif" font-size="52.5" font-weight="normal" fill="#e72a20" stroke="#fefefc" stroke-width="0.9" style="font-kerning:none"><tspan x="2194.86" letter-spacing="-2.12">88</tspan></text>
<text transform="translate(0 748.3)" font-family="'Liberation Serif', serif" font-size="52.5" font-weight="normal" fill="#e72a20" stroke="#fefefc" stroke-width="0.9" style="font-kerning:none"><tspan x="2194.86" letter-spacing="-2.12">89</tspan></text>
<text transform="translate(0 636.0)" font-family="'Liberation Serif', serif" font-size="52.5" font-weight="normal" fill="#e72a20" stroke="#fefefc" stroke-width="0.9" style="font-kerning:none"><tspan x="2194.86" letter-spacing="-2.12">90</tspan></text>
<text transform="translate(0 523.7)" font-family="'Liberation Serif', serif" font-size="52.5" font-weight="normal" fill="#e72a20" stroke="#fefefc" stroke-width="0.9" style="font-kerning:none"><tspan x="2194.86" letter-spacing="-1.30">91</tspan></text>
<text transform="translate(0 411.3)" font-family="'Liberation Serif', serif" font-size="52.5" font-weight="normal" fill="#e72a20" stroke="#fefefc" stroke-width="0.9" style="font-kerning:none"><tspan x="2194.86" letter-spacing="-1.30">92</tspan></text>
<text transform="translate(0 299.0)" font-family="'Liberation Serif', serif" font-size="52.5" font-weight="normal" fill="#e72a20" stroke="#fefefc" stroke-width="0.9" style="font-kerning:none"><tspan x="2194.86" letter-spacing="-2.12">93</tspan></text>
<text transform="translate(0 186.6)" font-family="'Liberation Serif', serif" font-size="52.5" font-weight="normal" fill="#e72a20" stroke="#fefefc" stroke-width="0.9" style="font-kerning:none"><tspan x="2194.86" letter-spacing="-2.94">94</tspan></text>
<text transform="translate(0 74.3)" font-family="'Liberation Serif', serif" font-size="52.5" font-weight="normal" fill="#e72a20" stroke="#fefefc" stroke-width="0.9" style="font-kerning:none"><tspan x="2194.86" letter-spacing="-2.12">95</tspan></text>
<text transform="translate(0 1326.8) scale(0.95 1)" font-family="'Liberation Serif', serif" font-size="68" font-weight="bold" fill="#15130f" style="font-kerning:none"><tspan x="1001.57" letter-spacing="4.71">Number</tspan> <tspan x="1285.24" letter-spacing="8.43">of</tspan> <tspan x="1364.83" letter-spacing="4.34">iterations</tspan></text>
<text transform="translate(0 112.0) scale(0.97 1)" font-family="'Liberation Serif', serif" font-size="50.5" font-weight="bold" fill="#15130f" style="font-kerning:none"><tspan x="417.46" letter-spacing="1.33">Testing data</tspan></text>
<text transform="translate(0 177.6) scale(0.97 1)" font-family="'Liberation Serif', serif" font-size="50.5" font-weight="bold" fill="#15130f" style="font-kerning:none"><tspan x="417.46" letter-spacing="1.44">Training data</tspan></text>
<text transform="translate(0 121.4) scale(0.97 1)" font-family="'Liberation Serif', serif" font-size="62.5" font-weight="bold" fill="#15130f" style="font-kerning:none"><tspan x="1636.76" letter-spacing="1.57">Overfitting</tspan></text>
<text transform="translate(64.3 708.1) rotate(-90) scale(0.95 1)" font-family="'Liberation Serif', serif" font-size="68" font-weight="bold" fill="#15130f" style="font-kerning:none"><tspan x="-1.06" letter-spacing="4.37">Loss</tspan></text>
<text transform="translate(2307.0 891.3) rotate(-90) scale(0.95 1)" font-family="'Liberation Serif', serif" font-size="66" font-weight="bold" fill="#15130f" style="font-kerning:none"><tspan x="-3.09" letter-spacing="5.21">Overall accuracy(%)</tspan></text>
</svg>
</body>
</html>
